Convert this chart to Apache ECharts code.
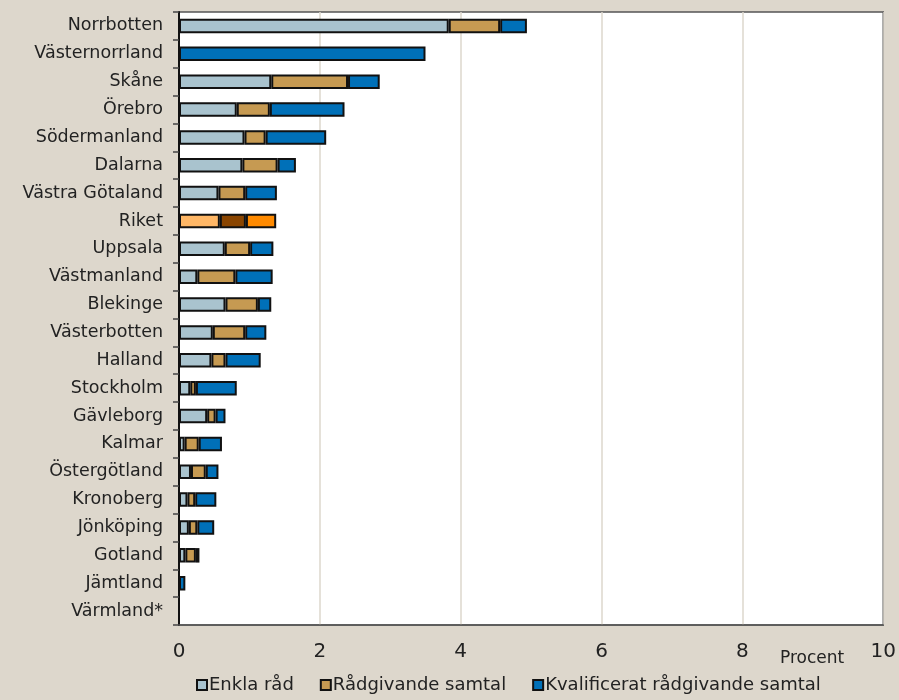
<!DOCTYPE html>
<html><head><meta charset="utf-8">
<script src="https://cdn.jsdelivr.net/npm/echarts@6/dist/echarts.min.js"></script>
<style>html,body{margin:0;padding:0;background:#DDD7CC}#c{width:899px;height:700px}</style>
</head><body><div id="c"></div>
<script>
const categories = ["Norrbotten","Västernorrland","Skåne","Örebro","Södermanland","Dalarna","Västra Götaland","Riket","Uppsala","Västmanland","Blekinge","Västerbotten","Halland","Stockholm","Gävleborg","Kalmar","Östergötland","Kronoberg","Jönköping","Gotland","Jämtland","Värmland*"];
const enkla = [3.83,0,1.31,0.82,0.93,0.90,0.56,0.58,0.65,0.26,0.66,0.48,0.46,0.16,0.40,0.08,0.17,0.12,0.14,0.09,0,0];
const radgivande = [0.73,0,1.09,0.47,0.30,0.50,0.38,0.37,0.36,0.54,0.46,0.46,0.20,0.08,0.12,0.20,0.21,0.11,0.12,0.15,0,0];
const kvalificerat = [0.38,3.50,0.45,1.06,0.86,0.26,0.45,0.43,0.33,0.53,0.19,0.30,0.50,0.58,0.14,0.33,0.18,0.30,0.24,0.05,0.09,0];
const seriesNames = ["Enkla råd","Rådgivande samtal","Kvalificerat rådgivande samtal"];
const xTicks = [0,2,4,6,8,10];

const colors = ['#A9C3CE','#C69A52','#0070B8'];
const riketColors = ['#FFB766','#8A4500','#FF8A00'];
const font = 'DejaVu Sans';
function mk(vals, i){
  return vals.map((v,k)=> categories[k]==='Riket' ? {value:v,itemStyle:{color:riketColors[i]}} : v);
}
const chart = echarts.init(document.getElementById('c'));
chart.setOption({
  backgroundColor:'#DDD7CC',
  animation:false,
  grid:{left:179,right:15,top:12,bottom:75,show:true,backgroundColor:'#fff',borderColor:'#555',borderWidth:1.5,containLabel:false},
  legend:{bottom:1,left:191,itemWidth:10,itemHeight:10,itemGap:26,icon:'rect',
    textStyle:{fontFamily:font,fontSize:18,color:'#222',padding:[0,0,0,-3]},
    data:seriesNames},
  xAxis:{type:'value',min:xTicks[0],max:xTicks[xTicks.length-1],interval:2,
    axisLine:{show:true,lineStyle:{color:'#555',width:1.5}},axisTick:{show:false},
    splitLine:{show:true,lineStyle:{color:'#DDD7CC',width:1.5}},
    axisLabel:{margin:17,fontFamily:font,fontSize:20,color:'#222'}},
  yAxis:{type:'category',data:categories,inverse:true,
    axisLine:{show:true,lineStyle:{color:'#111',width:2}},
    axisTick:{show:true,length:6,lineStyle:{color:'#444',width:1.5}},
    axisLabel:{margin:16,fontFamily:font,fontSize:17.5,color:'#222'}},
  graphic:[{type:'text',left:780,top:650,style:{text:'Procent',font:'17px "DejaVu Sans"',fill:'#222'}}],
  series:[enkla,radgivande,kvalificerat].map((vals,i)=>({
    name:seriesNames[i],type:'bar',stack:'s',barWidth:'52%',
    itemStyle:{color:colors[i],borderColor:'#111',borderWidth:2},
    data:mk(vals,i)
  }))
});
</script></body></html>
